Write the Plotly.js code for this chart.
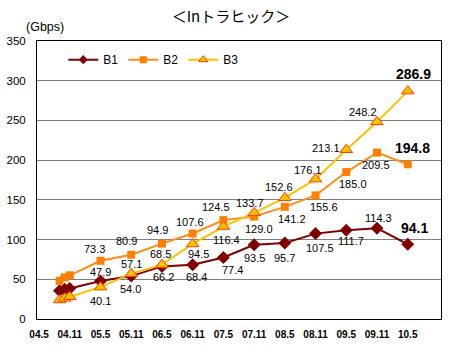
<!DOCTYPE html>
<html><head><meta charset="utf-8">
<script src="https://cdn.plot.ly/plotly-3.0.1.min.js"></script>
<style>html,body{margin:0;padding:0;background:#fff}</style>
</head><body><div id="chart" style="width:462px;height:359px"></div>
<script>
// Data (month labels "YY.M")
const months = ["04.9","04.10","04.11","05.5","05.11","06.5","06.11","07.5","07.11","08.5","08.11","09.5","09.11","10.5"];
const b1 = [35.6, 37.4, 38.5, 47.9, 54.0, 66.2, 68.4, 77.4, 93.5, 95.7, 107.5, 111.7, 114.3, 94.1];
const b2 = [48.0, 52.5, 55.0, 73.3, 80.9, 94.9, 107.6, 124.5, 129.0, 141.2, 155.6, 185.0, 209.5, 194.8];
const b3 = [24.0, 26.0, 28.0, 40.1, 57.1, 68.5, 94.5, 116.4, 133.7, 152.6, 176.1, 213.1, 248.2, 286.9];
const tickLabels = ["04.5","04.11","05.5","05.11","06.5","06.11","07.5","07.11","08.5","08.11","09.5","09.11","10.5"];
const seriesNames = ["B1","B2","B3"];

function toIdx(s){ const p = s.split("."); return (parseInt(p[0],10)-4)*12 + (parseInt(p[1],10)-5); }
const xs = months.map(toIdx);
const tickVals = tickLabels.map(toIdx);

// label offsets (px) for points 3..13
const off1 = [[0,9],[-1,-13],[2,-11],[4,-12],[9,-12],[0,-13.5],[0,-15],[4,-14],[5,-10.5],[2,10.5],[7,16]];
const off2 = [[-6,12],[-5,14],[-4,14],[-3,12],[-7,13],[5,-12],[7,-12],[8,-12],[7,-11.5],[-1,-12],[5,16]];
const off3 = [[0,-14],[0,10],[-1,10.5],[6,-10],[3,-13.5],[-4,9.5],[-6,11],[-8,9],[-20,2],[-14,10],[6,17]];

const c1 = "#800000", c2 = "#FF8000", c3 = "#FFC000";
const styles = [
  {line:{color:c1, width:2}, marker:{symbol:"diamond", size:10, color:c1}, lm:{symbol:"diamond", size:7, color:c1}},
  {line:{color:"#FF8C1A", width:2}, marker:{symbol:"square", size:8, color:c2}, lm:{symbol:"square", size:7, color:c2}},
  {line:{color:c3, width:2}, marker:{symbol:"triangle-up", size:11, color:c3, line:{color:"#FF4000", width:1}},
   lm:{symbol:"triangle-up", size:8, color:c3, line:{color:"#FF4000", width:1}}}
];
const series = [b1,b2,b3];
const traces = [];
series.forEach((arr,k)=>{
  traces.push({x: xs, y: arr, name: seriesNames[k], mode:"lines+markers", line: styles[k].line,
    marker: styles[k].marker, showlegend:false});
});
series.forEach((arr,k)=>{
  traces.push({x:[null], y:[null], name: seriesNames[k], mode:"lines+markers", line: styles[k].line,
    marker: styles[k].lm, showlegend:true});
});

const annotations = [];
[[b1,off1],[b2,off2],[b3,off3]].forEach(([arr,off])=>{
  for (let i=3;i<arr.length;i++){
    const last = i===arr.length-1;
    annotations.push({x: xs[i], y: arr[i], xref:"x", yref:"y", text: arr[i].toFixed(1), showarrow:false,
      xshift: off[i-3][0], yshift: off[i-3][1],
      font:{family:"Liberation Sans, Arial, sans-serif", size: last?14:11, color:"#000", weight: last?"bold":"normal"}});
  }
});
annotations.push({xref:"paper", yref:"paper", x:0.02, y:1.05, xanchor:"center", yanchor:"middle", showarrow:false,
  text:"(Gbps)", font:{family:"Liberation Sans, Arial, sans-serif", size:12.5, color:"#000"}});

const layout = {
  width:462, height:359,
  margin:{l:37, r:21, t:41, b:40},
  paper_bgcolor:"#fff", plot_bgcolor:"#fff",
  title:{text:"＜Inトラヒック＞", x:0.5, xanchor:"center", y:0.953, yanchor:"middle",
    font:{family:"Noto Sans CJK JP, sans-serif", size:15, color:"#000"}},
  font:{family:"Liberation Sans, Arial, sans-serif", color:"#000"},
  showlegend:true,
  legend:{orientation:"h", x:0.065, y:0.985, xanchor:"left", yanchor:"top", bgcolor:"rgba(0,0,0,0)",
    font:{size:12, color:"#000"}, itemwidth:30, tracegroupgap:0},
  xaxis:{range:[-0.4,78.5], tickvals:tickVals, ticktext:tickLabels, showgrid:false, zeroline:false,
    showline:true, mirror:true, linecolor:"#000", linewidth:1, ticks:"", ticklabelstandoff:6,
    tickfont:{size:10, weight:"bold", color:"#000"}},
  yaxis:{range:[0,350], dtick:50, showgrid:true, gridcolor:"#808080", gridwidth:1, zeroline:false,
    showline:true, mirror:true, linecolor:"#000", linewidth:1, ticks:"", ticklabelstandoff:8,
    tickfont:{size:11.5, color:"#000"}},
  annotations: annotations
};
Plotly.newPlot("chart", traces, layout, {displayModeBar:false, staticPlot:true});
</script></body></html>
